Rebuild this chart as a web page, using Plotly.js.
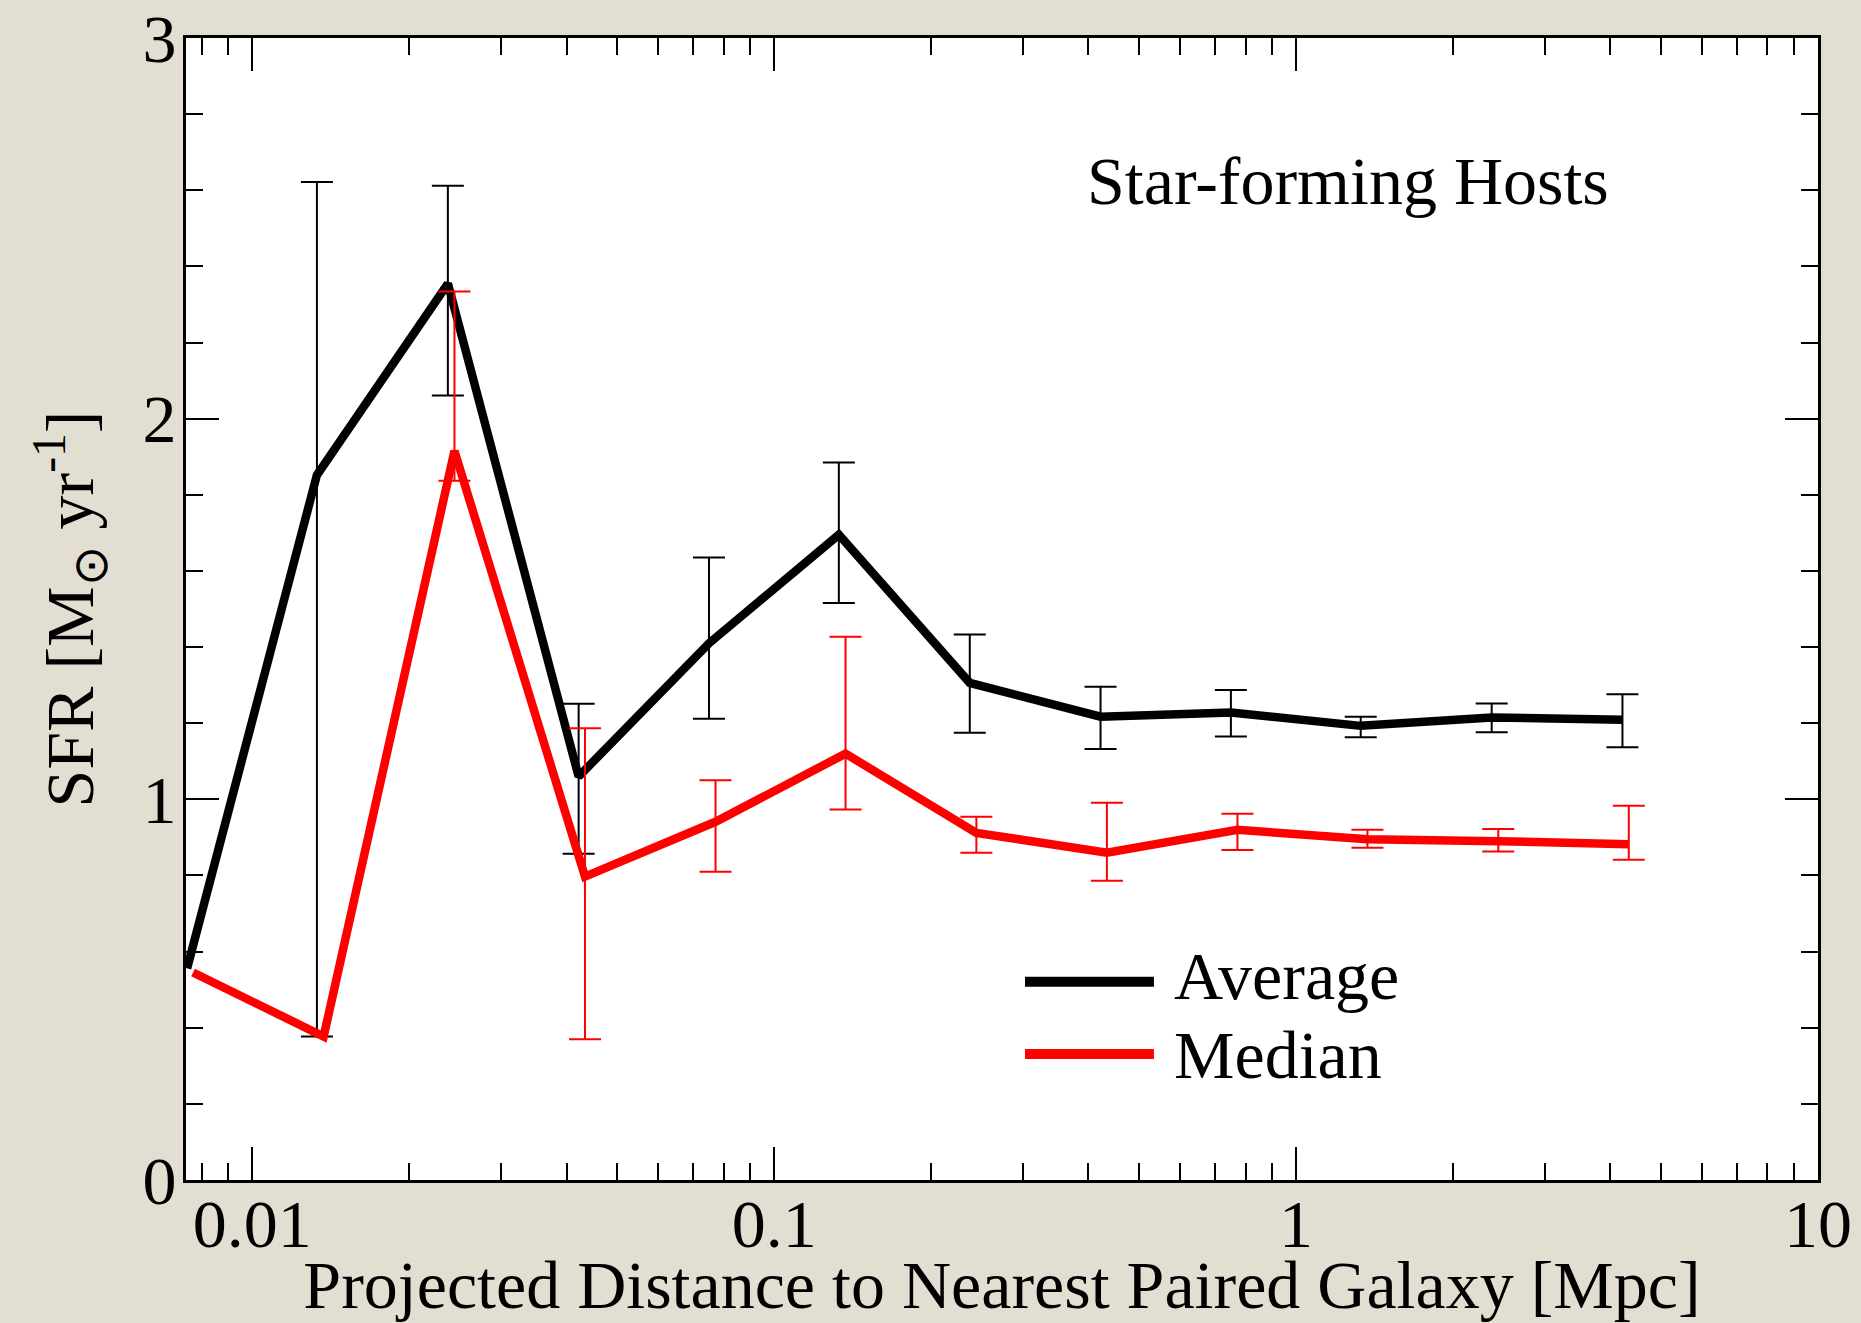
<!DOCTYPE html>
<html>
<head>
<meta charset="utf-8">
<script src="https://cdn.plot.ly/plotly-3.0.1.min.js"></script>
<style>
  html, body { margin: 0; padding: 0; background: rgb(226,222,210); }
  #chart { width: 1861px; height: 1323px; }
</style>
</head>
<body>
<div id="chart"></div>
<script>
// Projected distance to the nearest paired galaxy [Mpc], bin centres
const avgDist = [0.0075, 0.0133, 0.0237, 0.0422, 0.075, 0.133, 0.237, 0.422, 0.75, 1.33, 2.37, 4.22];
const medDist = [0.0077, 0.0137, 0.0244, 0.0434, 0.0772, 0.137, 0.244, 0.434, 0.772, 1.37, 2.44, 4.34];

// Average SFR per bin and its upper / lower uncertainties (null = no bar)
const avgSFR   = [0.556, 1.852, 2.355, 1.060, 1.410, 1.695, 1.306, 1.217, 1.228, 1.193, 1.215, 1.209];
const avgErrHi = [null, 0.770, 0.257, 0.191, 0.225, 0.190, 0.127, 0.079, 0.059, 0.024, 0.037, 0.067];
const avgErrLo = [null, 1.475, 0.294, 0.203, 0.198, 0.179, 0.131, 0.085, 0.063, 0.030, 0.039, 0.072];

// Median SFR per bin and its upper / lower uncertainties
const medSFR   = [0.545, 0.377, 1.915, 0.797, 0.941, 1.120, 0.912, 0.860, 0.920, 0.895, 0.890, 0.882];
const medErrHi = [null, null, 0.419, 0.390, 0.109, 0.307, 0.042, 0.131, 0.042, 0.025, 0.032, 0.101];
const medErrLo = [null, null, 0.078, 0.427, 0.131, 0.147, 0.052, 0.074, 0.053, 0.022, 0.027, 0.041];

const seriesNames = ['Average', 'Median'];
const xTickVals = [0.01, 0.1, 1, 10];
const xTickText = ['0.01', '0.1', '1', '10'];
const yTickVals = [0, 1, 2, 3];
const panelLabel = 'Star-forming Hosts';

// missing uncertainties become NaN so no bar is drawn for them
const toErr = arr => arr.map(v => (v === null ? NaN : v));

// minor log ticks (2..9 within each decade)
const xMinor = [];
for (let e = -3; e <= 0; e++) {
  for (let k = 2; k <= 9; k++) xMinor.push(k * Math.pow(10, e));
}

const FONT = 'Liberation Serif, Times New Roman, serif';

const traces = [
  {
    x: avgDist, y: avgSFR, name: seriesNames[0],
    type: 'scatter', mode: 'lines',
    line: { color: '#000000', width: 8.5 },
    error_y: {
      type: 'data', symmetric: false,
      array: toErr(avgErrHi), arrayminus: toErr(avgErrLo),
      color: '#000000', thickness: 2, width: 16
    },
    showlegend: false
  },
  {
    x: medDist, y: medSFR, name: seriesNames[1],
    type: 'scatter', mode: 'lines',
    line: { color: '#ff0000', width: 8.5 },
    error_y: {
      type: 'data', symmetric: false,
      array: toErr(medErrHi), arrayminus: toErr(medErrLo),
      color: '#ff0000', thickness: 2, width: 16
    },
    showlegend: false
  }
];

const axisCommon = {
  showline: true, linecolor: '#000000', linewidth: 3,
  mirror: 'allticks', ticks: 'inside', ticklen: 33, tickwidth: 2, tickcolor: '#000000',
  showgrid: false, zeroline: false,
  tickfont: { family: FONT, size: 68, color: '#000000' }
};

const layout = {
  width: 1861, height: 1323,
  margin: { l: 186, r: 43, t: 38, b: 143 },
  paper_bgcolor: 'rgb(226,222,210)',
  plot_bgcolor: '#ffffff',
  showlegend: false,
  xaxis: Object.assign({}, axisCommon, {
    type: 'log',
    range: [-2.127, 1],
    tickmode: 'array', tickvals: xTickVals, ticktext: xTickText,
    ticklabelstandoff: -18,
    minor: { tickmode: 'array', tickvals: xMinor, ticks: 'inside', ticklen: 17, tickwidth: 2, tickcolor: '#000000' },
    title: {
      text: 'Projected Distance to Nearest Paired Galaxy [Mpc]',
      font: { family: FONT, size: 68, color: '#000000' },
      standoff: 0
    },
    automargin: false
  }),
  yaxis: Object.assign({}, axisCommon, {
    range: [0, 3],
    tickmode: 'array', tickvals: yTickVals,
    ticklabelstandoff: -7,
    minor: { dtick: 0.2, ticks: 'inside', ticklen: 17, tickwidth: 2, tickcolor: '#000000' },
    title: {
      text: 'SFR [M<sub>⊙</sub> yr<sup>-1</sup>]',
      font: { family: FONT, size: 68, color: '#000000' },
      standoff: 27
    },
    automargin: false
  }),
  shapes: [
    { type: 'line', xref: 'paper', yref: 'paper', x0: 0.5141, x1: 0.5931, y0: 0.1737, y1: 0.1737,
      line: { color: '#000000', width: 10 } },
    { type: 'line', xref: 'paper', yref: 'paper', x0: 0.5141, x1: 0.5931, y0: 0.1103, y1: 0.1103,
      line: { color: '#ff0000', width: 10 } }
  ],
  annotations: [
    { text: panelLabel, xref: 'paper', yref: 'paper', x: 0.7123, y: 0.8748,
      xanchor: 'center', yanchor: 'middle', showarrow: false,
      font: { family: FONT, size: 68, color: '#000000' } },
    { text: seriesNames[0], xref: 'paper', yref: 'paper', x: 0.604, y: 0.1786,
      xanchor: 'left', yanchor: 'middle', showarrow: false,
      font: { family: FONT, size: 68, color: '#000000' } },
    { text: seriesNames[1], xref: 'paper', yref: 'paper', x: 0.604, y: 0.1097,
      xanchor: 'left', yanchor: 'middle', showarrow: false,
      font: { family: FONT, size: 68, color: '#000000' } }
  ]
};

Plotly.newPlot('chart', traces, layout, { staticPlot: true, displayModeBar: false });
</script>
</body>
</html>
